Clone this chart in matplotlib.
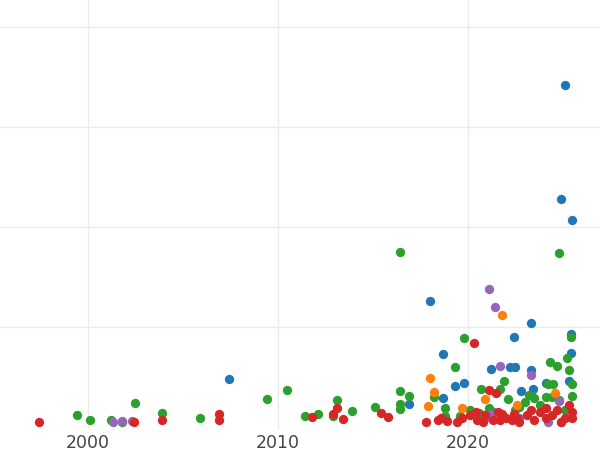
import numpy as np
import matplotlib.pyplot as plt

# values (year, value)
blue_x = [2007.4, 2018.0, 2018.7, 2019.3, 2019.8, 2021.2, 2022.2, 2022.5, 2022.4, 2023.3,
          2023.3, 2023.4, 2025.1, 2024.9, 2025.5, 2025.4, 2025.4, 2025.3, 2024.1, 2022.8,
          2016.9, 2018.7]
blue_y = [48, 126, 73, 41, 44, 58, 60, 60, 90, 104, 57, 38, 342, 228, 207, 93, 74, 46, 44, 36, 23, 29]

green_x = [1999.4, 2000.1, 2001.2, 2001.8, 2002.5, 2003.9, 2005.9, 2009.4, 2010.5, 2011.4,
           2012.1, 2012.9, 2013.1, 2013.9, 2015.1, 2016.4, 2016.4, 2016.4, 2016.4, 2016.9,
           2018.2, 2018.8, 2019.3, 2019.8, 2020.7, 2021.7, 2021.9, 2022.1, 2022.7, 2023.2,
           2024.8, 2025.4, 2024.3, 2024.7, 2025.2, 2025.3, 2025.5, 2024.5, 2024.2, 2024.1,
           2024.4, 2024.8, 2025.5, 2023.8, 2023.5, 2023.0, 2022.5, 2021.3, 2020.6, 2019.6,
           2018.8, 2020.1, 2021.1, 2025.1]
green_y = [12, 7, 7, 5, 24, 14, 9, 28, 37, 11, 13, 11, 27, 16, 20, 175, 36, 23, 18, 31,
           30, 19, 60, 89, 38, 38, 46, 28, 20, 32, 174, 90, 65, 61, 69, 57, 43, 43, 43, 30,
           30, 27, 31, 22, 29, 25, 17, 15, 14, 11, 11, 17, 19, 17]

red_x = [1997.4, 2002.4, 2003.9, 2006.9, 2006.9, 2011.8, 2012.9, 2013.1, 2013.4, 2015.4,
         2015.8, 2017.8, 2020.3, 2021.5, 2021.1, 2018.6, 2018.9, 2019.4, 2018.4, 2019.7,
         2020.1, 2020.5, 2020.9, 2021.3, 2021.6, 2022.0, 2022.3, 2022.7, 2023.1, 2023.5,
         2023.8, 2024.1, 2024.4, 2024.7, 2025.1, 2025.5, 2025.3, 2023.3, 2022.4, 2020.4,
         2020.8, 2021.7, 2024.1, 2024.9, 2025.5, 2021.8, 2022.6]
red_y = [5, 5, 7, 13, 7, 10, 13, 19, 8, 14, 10, 5, 84, 34, 37, 9, 6, 5, 7, 9, 12, 7, 12,
         7, 15, 9, 7, 5, 12, 7, 15, 9, 12, 17, 9, 15, 22, 17, 13, 15, 5, 7, 19, 5, 9, 13, 9]

orange_x = [2018.0, 2018.2, 2017.9, 2019.7, 2020.9, 2021.8, 2022.6, 2024.6]
orange_y = [49, 35, 21, 19, 28, 112, 22, 34]

purple_x = [2001.3, 2001.8, 2002.3, 2021.1, 2021.4, 2021.7, 2023.3, 2021.2, 2022.7, 2024.8,
            2024.9, 2021.1, 2024.2]
purple_y = [5, 6, 6, 138, 120, 61, 52, 13, 9, 26, 5, 10, 5]

fig = plt.figure(figsize=(6, 4.5), dpi=100)
ax = fig.add_axes([0, 0.044, 1, 0.956])

series = [(blue_x, blue_y, '#1f77b4'), (green_x, green_y, '#2ca02c'),
          (orange_x, orange_y, '#ff7f0e'), (purple_x, purple_y, '#9467bd'),
          (red_x, red_y, '#d62728')]
for xs, ys, c in series:
    ax.scatter(xs, ys, s=45, color=c, linewidths=0, zorder=3)

ax.set_xlim(1995.37, 2026.95)
ax.set_ylim(-3, 427)
ax.set_xticks([2000, 2010, 2020])
ax.set_yticks([100, 200, 300, 400])
ax.set_yticklabels([])
ax.tick_params(length=0, labelsize=12.5, labelcolor='#444444', pad=3)
ax.grid(True, color='#ebebeb', linewidth=1)
ax.set_axisbelow(True)
for s in ax.spines.values():
    s.set_visible(False)

fig.savefig('out.png', dpi=100)
